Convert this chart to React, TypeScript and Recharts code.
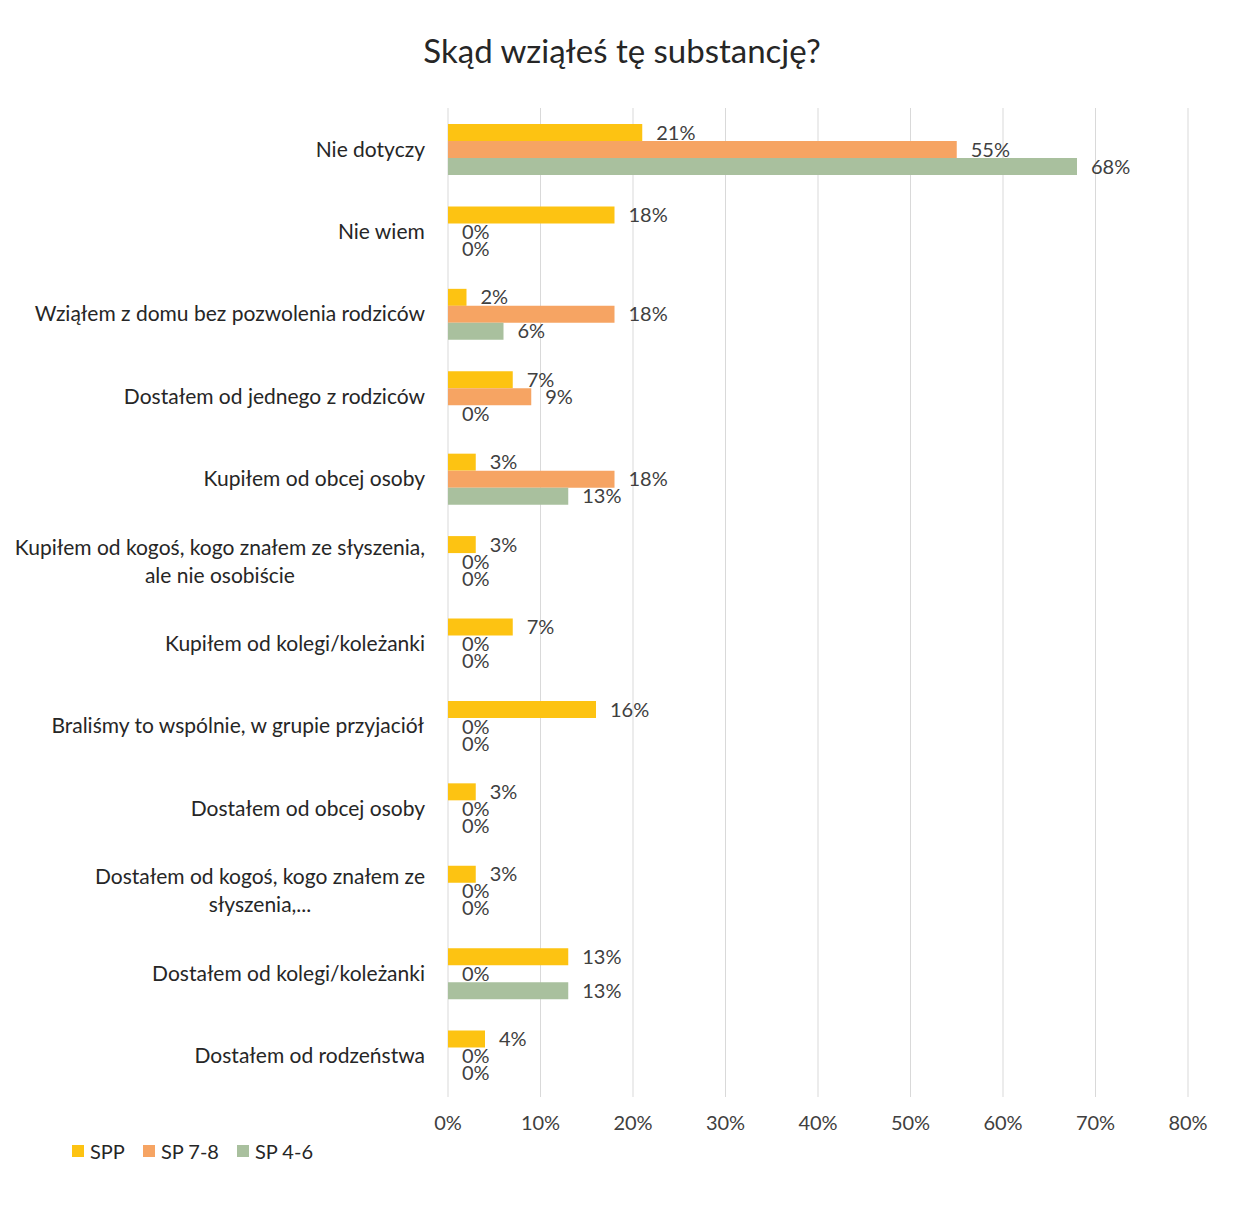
import { BarChart, Bar, XAxis, YAxis, CartesianGrid, LabelList } from 'recharts'

const FONT = 'Lato, "Noto Sans", sans-serif'

const categories = [
  'Nie dotyczy',
  'Nie wiem',
  'Wziąłem z domu bez pozwolenia rodziców',
  'Dostałem od jednego z rodziców',
  'Kupiłem od obcej osoby',
  'Kupiłem od kogoś, kogo znałem ze słyszenia,\nale nie osobiście',
  'Kupiłem od kolegi/koleżanki',
  'Braliśmy to wspólnie, w grupie przyjaciół',
  'Dostałem od obcej osoby',
  'Dostałem od kogoś, kogo znałem ze\nsłyszenia,...',
  'Dostałem od kolegi/koleżanki',
  'Dostałem od rodzeństwa',
]

const spp = [21, 18, 2, 7, 3, 3, 7, 16, 3, 3, 13, 4]
const sp78 = [55, 0, 18, 9, 18, 0, 0, 0, 0, 0, 0, 0]
const sp46 = [68, 0, 6, 0, 13, 0, 0, 0, 0, 0, 13, 0]

const xTicks = [0, 10, 20, 30, 40, 50, 60, 70, 80]

const COLORS = { spp: '#FDC312', sp78: '#F6A463', sp46: '#A9C09E' }

const data = categories.map((name, i) => ({
  name,
  spp: spp[i],
  sp78: sp78[i],
  sp46: sp46[i],
}))

let ctx: CanvasRenderingContext2D | null = null
function measure(text: string, font: string) {
  if (!ctx) ctx = document.createElement('canvas').getContext('2d')
  if (!ctx) return text.length * 9
  ctx.font = font
  return ctx.measureText(text).width
}

function CategoryTick({ x, y, payload }: any) {
  const lines: string[] = String(payload.value).split('\n')
  const widths = lines.map((l) => measure(l, `21px ${FONT}`))
  const maxW = Math.max(...widths)
  const cx = x - maxW / 2
  const lineH = 28
  const startY = y - ((lines.length - 1) * lineH) / 2
  return (
    <text textAnchor="middle" fontSize={21} fill="#262626" fontFamily={FONT}>
      {lines.map((l, i) => (
        <tspan key={i} x={cx} y={startY + i * lineH} dy="0.35em">
          {l}
        </tspan>
      ))}
    </text>
  )
}

const pct = (v: any) => `${Number(v).toFixed(0)}%`

export default function App() {
  const legend = [
    { label: 'SPP', color: COLORS.spp },
    { label: 'SP 7-8', color: COLORS.sp78 },
    { label: 'SP 4-6', color: COLORS.sp46 },
  ]
  return (
    <div style={{ position: 'relative', width: 1219, height: 1195, fontFamily: FONT }}>
      <div
        style={{
          position: 'absolute',
          top: 22,
          left: 0,
          width: 1228,
          textAlign: 'center',
          fontSize: 33,
          color: '#262626',
        }}
      >
        Skąd wziąłeś tę substancję?
      </div>
      <BarChart
        width={1219}
        height={1195}
        data={data}
        layout="vertical"
        margin={{ top: 100, right: 39, left: 0, bottom: 76 }}
        barGap={0}
        style={{ fontFamily: FONT }}
      >
        <CartesianGrid horizontal={false} stroke="#d9d9d9" />
        <XAxis
          type="number"
          domain={[0, 80]}
          ticks={xTicks}
          tickFormatter={(v) => `${v}%`}
          axisLine={false}
          tickLine={false}
          tickMargin={13}
          tick={{ fontSize: 20, fill: '#404040' }}
          interval={0}
        />
        <YAxis
          type="category"
          dataKey="name"
          width={440}
          axisLine={false}
          tickLine={false}
          tickMargin={17}
          interval={0}
          tick={<CategoryTick />}
        />
        <Bar dataKey="spp" fill={COLORS.spp} barSize={17} minPointSize={0.01} isAnimationActive={false}>
          <LabelList dataKey="spp" position="right" offset={14} formatter={pct} fontSize={20} fill="#404040" />
        </Bar>
        <Bar dataKey="sp78" fill={COLORS.sp78} barSize={17} minPointSize={0.01} isAnimationActive={false}>
          <LabelList dataKey="sp78" position="right" offset={14} formatter={pct} fontSize={20} fill="#404040" />
        </Bar>
        <Bar dataKey="sp46" fill={COLORS.sp46} barSize={17} minPointSize={0.01} isAnimationActive={false}>
          <LabelList dataKey="sp46" position="right" offset={14} formatter={pct} fontSize={20} fill="#404040" />
        </Bar>
      </BarChart>
      <div
        style={{
          position: 'absolute',
          left: 64,
          top: 1131,
          display: 'flex',
          alignItems: 'center',
          gap: 18,
          fontSize: 20,
          color: '#262626',
        }}
      >
        {legend.map((l) => (
          <div key={l.label} style={{ display: 'flex', alignItems: 'center', gap: 6 }}>
            <span style={{ width: 12, height: 12, background: l.color, display: 'inline-block' }} />
            <span>{l.label}</span>
          </div>
        ))}
      </div>
    </div>
  )
}
